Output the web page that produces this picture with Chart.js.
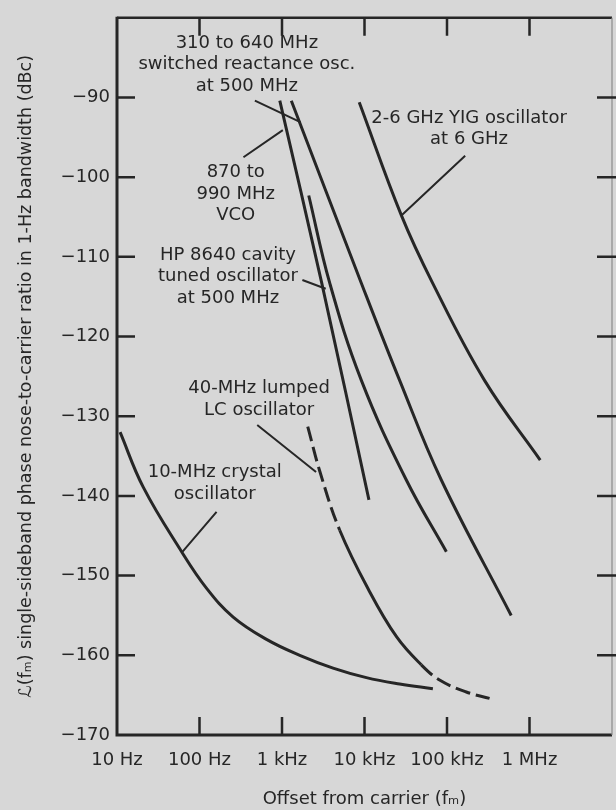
<!DOCTYPE html>
<html>
<head>
<meta charset="utf-8">
<title>SSB phase noise of oscillators</title>
<script src="https://cdn.jsdelivr.net/npm/chart.js@4.4.0/dist/chart.umd.min.js"></script>
<style>
  html, body { margin: 0; padding: 0; background: #d7d7d7; }
  canvas { display: block; }
</style>
</head>
<body>
<canvas id="noiseChart" width="616" height="810"></canvas>
<script>
// Offset from carrier (Hz) and L(fm) in dBc/Hz
const yigFreq = [8630, 28000, 67000, 285000, 1349000];
const yigDb = [-90.6, -104.8, -113.3, -125.5, -135.5];

const vcoFreq = [940, 3034, 11320];
const vcoDb = [-90.4, -113.3, -140.5];

const switchedFreq = [1297, 9162, 26670, 85300, 600000];
const switchedDb = [-90.4, -113.3, -125.5, -138.0, -155.0];

const hpFreq = [2109, 3793, 9162, 32140, 98200];
const hpDb = [-102.3, -113.3, -125.5, -138.0, -147.0];

const crystalFreq = [10.9, 20.8, 60.7, 122, 256, 649, 1641, 4159, 10540, 26670, 67450];
const crystalDb = [-132.0, -138.9, -147.0, -151.6, -155.2, -158.0, -160.0, -161.6, -162.8, -163.6, -164.2];

const lcFreq = [2051, 2871, 5012, 11250, 24550, 48870, 81280, 171400, 328100];
const lcDb = [-131.3, -136.9, -144.3, -151.8, -157.7, -161.2, -163.1, -164.6, -165.4];

// Axis ticks
const xTicks = [10, 100, 1000, 10000, 100000, 1000000, 10000000];
const xTickLabels = ['10 Hz', '100 Hz', '1 kHz', '10 kHz', '100 kHz', '1 MHz', ''];
const yTicks = [-170, -160, -150, -140, -130, -120, -110, -100, -90];
const yTickLabels = ['\u2212170', '\u2212160', '\u2212150', '\u2212140', '\u2212130', '\u2212120', '\u2212110', '\u2212100', '\u221290'];

// Curve labels: text lines, anchored (first line centre) in data units
const notes = [
    { lines: ['310 to 640 MHz', 'switched reactance osc.', 'at 500 MHz'], f: 375, db: -83.2 },
    { lines: ['2-6 GHz YIG oscillator', 'at 6 GHz'], f: 185000, db: -92.6 },
    { lines: ['870 to', '990 MHz', 'VCO'], f: 275, db: -99.4 },
    { lines: ['HP 8640 cavity', 'tuned oscillator', 'at 500 MHz'], f: 221, db: -109.8 },
    { lines: ['40-MHz lumped', 'LC oscillator'], f: 528, db: -126.5 },
    { lines: ['10-MHz crystal', 'oscillator'], f: 153, db: -137.1 }
];

// Leader lines from label to curve, [freq, dB] pairs
const leaders = [
    [[469, -90.4], [1671, -93.1]],
    [[341, -97.5], [1023, -94.1]],
    [[166000, -97.3], [28000, -104.8]],
    [[1766, -112.9], [3388, -114.0]],
    [[501, -131.1], [2588, -137.0]],
    [[161, -142.0], [62.4, -147.0]]
];

const ink = '#262626';
const fontFamily = "'DejaVu Sans', 'Liberation Sans', sans-serif";

function toPoints(xs, ys) {
    return xs.map((x, i) => ({ x: x, y: ys[i] }));
}

function curve(xs, ys, extra) {
    return Object.assign({
        data: toPoints(xs, ys),
        borderColor: ink,
        borderWidth: 3,
        pointRadius: 0,
        fill: false,
        tension: 0.4
    }, extra || {});
}

// LC oscillator is dashed at both ends, solid in the middle
const lcSolidFrom = 5012;
const lcSolidTo = 48870;

const framePlugin = {
    id: 'frame',
    afterDraw(chart) {
        const { ctx, chartArea: a, scales } = chart;
        const x = scales.x, y = scales.y;
        ctx.save();
        ctx.strokeStyle = ink;
        ctx.lineCap = 'butt';

        // heavy left and bottom axes
        ctx.lineWidth = 3;
        ctx.beginPath();
        ctx.moveTo(a.left, a.top - 1);
        ctx.lineTo(a.left, a.bottom);
        ctx.lineTo(a.right, a.bottom);
        ctx.stroke();

        ctx.lineWidth = 2.5;
        ctx.beginPath();
        ctx.moveTo(a.left, a.top);
        ctx.lineTo(a.right, a.top);
        ctx.stroke();

        ctx.strokeStyle = '#8a8a8a';
        ctx.lineWidth = 1.2;
        ctx.beginPath();
        ctx.moveTo(a.right, a.top);
        ctx.lineTo(a.right, a.bottom);
        ctx.stroke();

        // inward ticks on all four sides
        ctx.strokeStyle = ink;
        ctx.lineWidth = 2.5;
        ctx.beginPath();
        xTicks.slice(1, -1).forEach(v => {
            const px = x.getPixelForValue(v);
            ctx.moveTo(px, a.bottom);
            ctx.lineTo(px, a.bottom - 18);
            ctx.moveTo(px, a.top);
            ctx.lineTo(px, a.top + 18);
        });
        yTicks.slice(1).forEach(v => {
            const py = y.getPixelForValue(v);
            ctx.moveTo(a.left, py);
            ctx.lineTo(a.left + 18, py);
            ctx.moveTo(a.right - 15, py);
            ctx.lineTo(a.right + 4, py);
        });
        ctx.stroke();

        // leaders
        ctx.lineWidth = 2;
        ctx.beginPath();
        leaders.forEach(l => {
            ctx.moveTo(x.getPixelForValue(l[0][0]), y.getPixelForValue(l[0][1]));
            ctx.lineTo(x.getPixelForValue(l[1][0]), y.getPixelForValue(l[1][1]));
        });
        ctx.stroke();

        // curve labels
        ctx.fillStyle = ink;
        ctx.font = '18px ' + fontFamily;
        ctx.textAlign = 'center';
        ctx.textBaseline = 'middle';
        notes.forEach(n => {
            const px = x.getPixelForValue(n.f);
            const py = y.getPixelForValue(n.db);
            n.lines.forEach((t, i) => ctx.fillText(t, px, py + i * 21.5));
        });
        ctx.restore();
    }
};

new Chart(document.getElementById('noiseChart'), {
    type: 'line',
    data: {
        datasets: [
            curve(yigFreq, yigDb),
            curve(vcoFreq, vcoDb),
            curve(switchedFreq, switchedDb),
            curve(hpFreq, hpDb),
            curve(crystalFreq, crystalDb),
            curve(lcFreq, lcDb, {
                segment: {
                    borderDash: ctx => {
                        const f = ctx.p0.parsed.x;
                        return (f >= lcSolidFrom && f < lcSolidTo) ? [] : [15, 6];
                    }
                }
            })
        ]
    },
    options: {
        responsive: false,
        animation: false,
        devicePixelRatio: 1,
        layout: { padding: { top: 17, right: 4, left: 0, bottom: 0 } },
        plugins: {
            legend: { display: false },
            tooltip: { enabled: false }
        },
        scales: {
            x: {
                type: 'logarithmic',
                min: 10,
                max: 10000000,
                grid: { display: false, drawTicks: false },
                border: { display: false },
                afterBuildTicks: s => { s.ticks = xTicks.map(v => ({ value: v })); },
                afterFit: s => {
                    s.height = 75;
                    s.paddingLeft = 0;
                    s.paddingRight = 0;
                },
                ticks: {
                    autoSkip: false,
                    maxRotation: 0,
                    padding: 15,
                    color: ink,
                    font: { family: fontFamily, size: 18 },
                    callback: (v, i) => xTickLabels[i]
                },
                title: {
                    display: true,
                    text: 'Offset from carrier (f\u2098)',
                    color: ink,
                    font: { family: fontFamily, size: 18 },
                    padding: { top: 0, bottom: 0 }
                }
            },
            y: {
                type: 'linear',
                min: -170,
                max: -80,
                grid: { display: false, drawTicks: false },
                border: { display: false },
                afterBuildTicks: s => { s.ticks = yTicks.map(v => ({ value: v })); },
                afterFit: s => { s.width = 117; },
                ticks: {
                    padding: 7,
                    color: ink,
                    font: { family: fontFamily, size: 18 },
                    callback: (v, i) => yTickLabels[i]
                },
                title: {
                    display: true,
                    text: '\u2112(f\u2098) single-sideband phase nose-to-carrier ratio in 1-Hz bandwidth (dBc)',
                    color: ink,
                    font: { family: fontFamily, size: 17.5 },
                    padding: { top: 16, bottom: 0 }
                }
            }
        }
    },
    plugins: [framePlugin]
});
</script>
</body>
</html>
